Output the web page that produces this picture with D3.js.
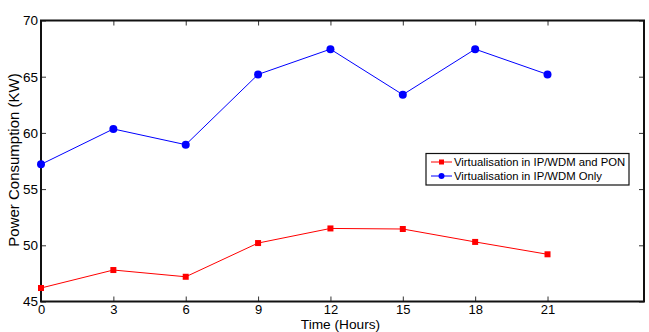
<!DOCTYPE html>
<html>
<head>
<meta charset="utf-8">
<script src="https://cdn.jsdelivr.net/npm/d3@7"></script>
<style>
  body { margin: 0; background: #fff; }
  text { font-family: "Liberation Sans", Arial, sans-serif; }
</style>
</head>
<body>
<div class="svg-container"></div>
<script>
const hours = [0, 3, 6, 9, 12, 15, 18, 21];
const pon = [46.2, 47.8, 47.2, 50.2, 51.5, 51.45, 50.3, 49.2];
const wdmOnly = [57.2, 60.35, 58.95, 65.2, 67.45, 63.4, 67.45, 65.2];
const xTicks = [0, 3, 6, 9, 12, 15, 18, 21];
const yTicks = [45, 50, 55, 60, 65, 70];
const seriesNames = ['Virtualisation in IP/WDM and PON', 'Virtualisation in IP/WDM Only'];

const outerWidth = 649;
const outerHeight = 332;
const margin = { left: 41, top: 20.5, right: 5, bottom: 30.5 };

const svg = d3.select('.svg-container')
  .append('svg')
  .attr('width', outerWidth)
  .attr('height', outerHeight);

const xScale = d3.scaleLinear()
  .domain([0, 25])
  .range([margin.left, outerWidth - margin.right]);

const yScale = d3.scaleLinear()
  .domain([45, 70])
  .range([outerHeight - margin.bottom, margin.top]);

// box + inward ticks on all sides (matlab style)
const x0 = xScale.range()[0], x1 = xScale.range()[1];
const y0 = yScale.range()[0], y1 = yScale.range()[1];

svg.append('g')
  .attr('transform', `translate(0, ${y0})`)
  .call(d3.axisBottom(xScale).tickValues(xTicks).tickSizeInner(-5).tickSizeOuter(0).tickPadding(6))
  .call(g => g.select('.domain').remove())
  .call(g => g.selectAll('text').attr('font-size', 13).attr('fill', '#000').attr('dy', '0.5em'));

svg.append('g')
  .attr('transform', `translate(0, ${y1})`)
  .call(d3.axisTop(xScale).tickValues(xTicks).tickSizeInner(-5).tickSizeOuter(0).tickFormat(''))
  .call(g => g.select('.domain').remove());

svg.append('g')
  .attr('transform', `translate(${x0}, 0)`)
  .call(d3.axisLeft(yScale).tickValues(yTicks).tickSizeInner(-5).tickSizeOuter(0).tickPadding(3))
  .call(g => g.select('.domain').remove())
  .call(g => g.selectAll('text').attr('font-size', 13.5).attr('fill', '#000'));

svg.append('g')
  .attr('transform', `translate(${x1}, 0)`)
  .call(d3.axisRight(yScale).tickValues(yTicks).tickSizeInner(-5).tickSizeOuter(0).tickFormat(''))
  .call(g => g.select('.domain').remove());

svg.selectAll('.tick line').attr('stroke', '#333').attr('stroke-width', 1);

svg.append('rect')
  .attr('x', x0)
  .attr('y', y1)
  .attr('width', x1 - x0)
  .attr('height', y0 - y1)
  .attr('fill', 'none')
  .attr('stroke', '#111')
  .attr('stroke-width', 2);

// lines
const line = d3.line()
  .x((d, i) => xScale(hours[i]))
  .y(d => yScale(d));

svg.append('path')
  .attr('d', line(pon))
  .attr('fill', 'none')
  .attr('stroke', '#f00')
  .attr('stroke-width', 1);

svg.append('path')
  .attr('d', line(wdmOnly))
  .attr('fill', 'none')
  .attr('stroke', '#00f')
  .attr('stroke-width', 1);

svg.selectAll('.sq')
  .data(pon)
  .enter()
  .append('rect')
  .attr('class', 'sq')
  .attr('x', (d, i) => xScale(hours[i]) - 3)
  .attr('y', d => yScale(d) - 3)
  .attr('width', 6)
  .attr('height', 6)
  .attr('fill', '#f00');

svg.selectAll('.dot')
  .data(wdmOnly)
  .enter()
  .append('circle')
  .attr('class', 'dot')
  .attr('cx', (d, i) => xScale(hours[i]))
  .attr('cy', d => yScale(d))
  .attr('r', 4)
  .attr('fill', '#00f');

// axis titles
svg.append('text')
  .text('Time (Hours)')
  .attr('x', 340.5)
  .attr('y', 329)
  .attr('text-anchor', 'middle')
  .attr('font-size', 13.7);

svg.append('text')
  .text('Power Consumption (KW)')
  .attr('transform', `translate(18.5, 160) rotate(-90)`)
  .attr('text-anchor', 'middle')
  .attr('font-size', 15);

// legend
const legend = svg.append('g')
  .attr('transform', 'translate(426, 153.5)');

legend.append('rect')
  .attr('width', 203)
  .attr('height', 31.5)
  .attr('fill', '#fff')
  .attr('stroke', '#111')
  .attr('stroke-width', 1.2);

const colors = ['#f00', '#00f'];
seriesNames.forEach((name, i) => {
  const y = 8.5 + i * 14;
  legend.append('line')
    .attr('x1', 5).attr('x2', 26)
    .attr('y1', y).attr('y2', y)
    .attr('stroke', colors[i]);
  if (i === 0) {
    legend.append('rect')
      .attr('x', 13).attr('y', y - 2.5)
      .attr('width', 5).attr('height', 5)
      .attr('fill', colors[i]);
  } else {
    legend.append('circle')
      .attr('cx', 15.5).attr('cy', y)
      .attr('r', 3)
      .attr('fill', colors[i]);
  }
  legend.append('text')
    .text(name)
    .attr('x', 28)
    .attr('y', y + 4)
    .attr('font-size', 11.3);
});
</script>
</body>
</html>
